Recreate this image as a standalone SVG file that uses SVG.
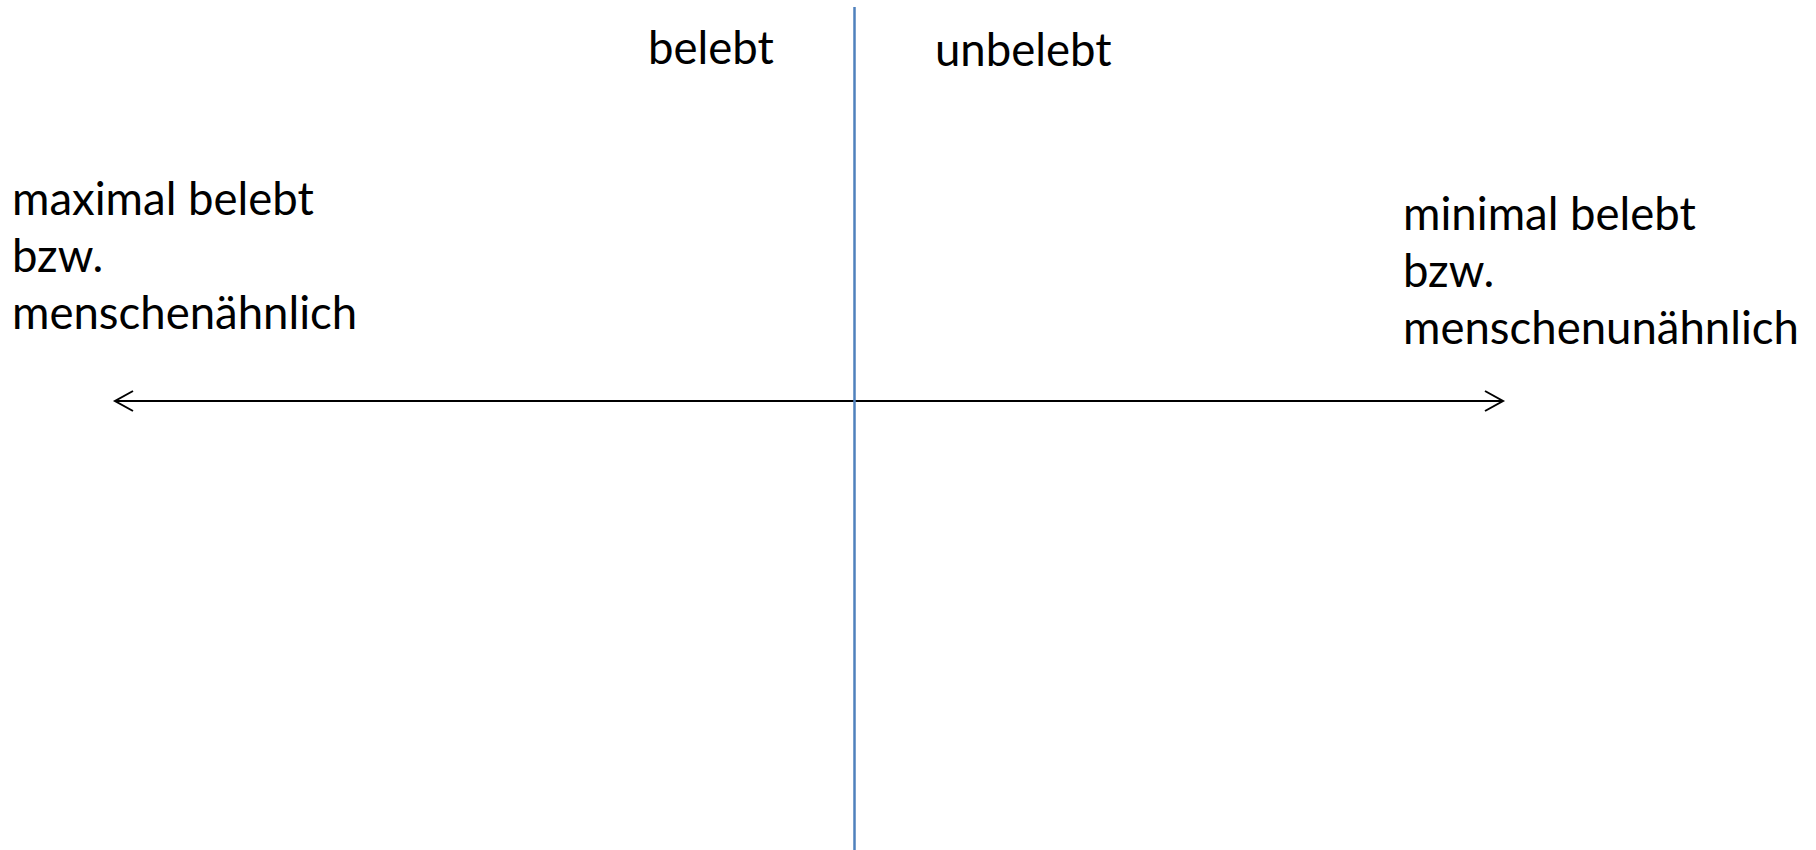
<svg xmlns="http://www.w3.org/2000/svg" width="1816" height="850" viewBox="0 0 1816 850">
<style>
text{font-family:Lato,"Open Sans","Liberation Sans",sans-serif;font-size:45.5px;fill:#000}
.axis{stroke:#000;stroke-width:2;fill:none}
.head{stroke:#000;stroke-width:2;fill:none}
.divider{stroke:#4f81bd;stroke-width:2.5}
</style>
<rect width="1816" height="850" fill="#fff"/>
<g id="connectors">
<line class="axis" x1="115" y1="401" x2="1503" y2="401"/>
<polyline class="head" points="133,391 115,401 133,411"/>
<polyline class="head" points="1485,391 1503,401 1485,411"/>
<line id="divider" class="divider" x1="854.5" y1="7" x2="854.5" y2="850"/>
</g>
<g id="label-belebt"><text x="648" y="64">belebt</text></g>
<g id="label-unbelebt"><text x="935" y="66">unbelebt</text></g>
<g id="label-left"><text x="12" y="215">maximal belebt</text><text x="12" y="272">bzw.</text><text x="12" y="329">menschenähnlich</text></g>
<g id="label-right"><text x="1403" y="230">minimal belebt</text><text x="1403" y="287">bzw.</text><text x="1403" y="344">menschenunähnlich</text></g>
</svg>
